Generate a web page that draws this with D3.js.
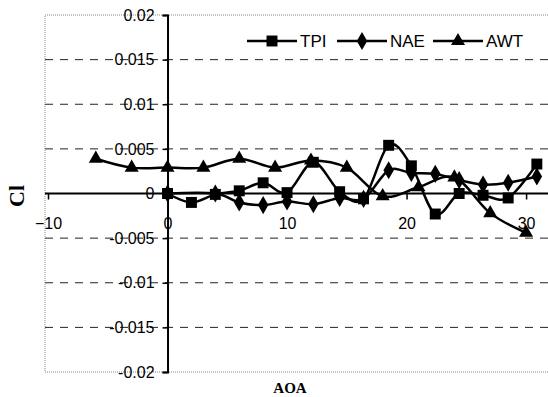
<!DOCTYPE html>
<html>
<head>
<meta charset="utf-8">
<script src="https://cdn.jsdelivr.net/npm/d3@7"></script>
<style>
  body { margin: 0; background: #fff; }
  svg { display: block; }
  text { font-family: "Liberation Sans", Arial, sans-serif; fill: #000; }
</style>
</head>
<body>
<div id="playground"></div>
<script>
// series data
var tpiX = [0, 2, 4, 6, 8, 10, 12.2, 14.4, 16.4, 18.5, 20.4, 22.4, 24.4, 26.4, 28.5, 30.9];
var tpiY = [0, -0.001, -0.0001, 0.0003, 0.0012, 0.0001, 0.0035, 0.0002, -0.0006, 0.0054, 0.0031, -0.0023, 0, -0.0002, -0.0005, 0.0033];
var naeX = [0, 4, 6, 8, 10, 12.2, 14.4, 16.4, 18.5, 20.4, 22.4, 24.4, 26.4, 28.5, 30.9];
var naeY = [0, 0, -0.001, -0.0013, -0.0009, -0.0012, -0.0005, -0.0006, 0.0026, 0.0023, 0.0022, 0.0015, 0.001, 0.0012, 0.0019];
var awtX = [-6, -3, 0, 3, 6, 9, 12, 15, 18, 21, 24, 27, 30];
var awtY = [0.0039, 0.0029, 0.0029, 0.0029, 0.0039, 0.0029, 0.0037, 0.0029, -0.0003, 0.0007, 0.0018, -0.0022, -0.0044];
var seriesNames = ["TPI", "NAE", "AWT"];
var xTicks = [-10, 0, 10, 20, 30];
var yTicks = [0.02, 0.015, 0.01, 0.005, 0, -0.005, -0.01, -0.015, -0.02];
var yTickLabels = ["0.02", "0.015", "0.01", "0.005", "0", "-0.005", "-0.01", "-0.015", "-0.02"];

var W = 548, H = 397;
var svg = d3.select("#playground").append("svg")
  .attr("width", W).attr("height", H);

var x = d3.scaleLinear().domain([-10, 32]).range([48, 550]);
var y = d3.scaleLinear().domain([-0.02, 0.02]).range([372, 15]);

// dotted plot border
svg.append("rect")
  .attr("x", 45).attr("y", y(0.02))
  .attr("width", 520).attr("height", y(-0.02) - y(0.02))
  .attr("fill", "none").attr("stroke", "#888")
  .attr("stroke-width", 1).attr("stroke-dasharray", "1,1");

// dashed grid
svg.selectAll(".grid").data(yTicks.filter(function(d){ return d != 0 && Math.abs(d) < 0.02; }))
  .enter().append("line")
  .attr("x1", 45).attr("x2", W)
  .attr("y1", function(d){ return y(d); }).attr("y2", function(d){ return y(d); })
  .attr("stroke", "#222").attr("stroke-width", 1).attr("stroke-dasharray", "8,7");

// axes crossing at zero
var yAxis = d3.axisLeft(y).tickValues(yTicks).tickSize(5).tickPadding(8)
  .tickFormat(function(d, i){ return yTickLabels[i]; });
var gy = svg.append("g").attr("transform", "translate(" + x(0) + ",0)").call(yAxis);
gy.select(".domain").attr("stroke-width", 2);
gy.selectAll("line").attr("stroke-width", 1.5);
gy.selectAll("text").style("font-size", "16px").attr("fill", "#000")
  .style("font-family", "'Liberation Sans', Arial, sans-serif");

var xAxis = d3.axisBottom(x).tickValues(xTicks).tickSize(6).tickPadding(18)
  .tickFormat(d3.format("d"));
var gx = svg.append("g").attr("transform", "translate(0," + y(0) + ")").call(xAxis);
gx.select(".domain").attr("d", "M45,0H" + W).attr("stroke-width", 2);
gx.selectAll("line").attr("stroke-width", 1.5);
gx.selectAll("text").style("font-size", "16px").attr("fill", "#000")
  .style("font-family", "'Liberation Sans', Arial, sans-serif");

// axis titles
svg.append("text")
  .attr("transform", "translate(24,196) rotate(-90)")
  .attr("text-anchor", "middle")
  .style("font-family", "'Liberation Serif', 'Times New Roman', serif")
  .style("font-weight", "bold").style("font-size", "22px")
  .text("Cl");
svg.append("text")
  .attr("x", 290).attr("y", 393)
  .attr("text-anchor", "middle")
  .style("font-family", "'Liberation Serif', 'Times New Roman', serif")
  .style("font-weight", "bold").style("font-size", "15px")
  .text("AOA");

// markers
var sq = d3.symbol().type(d3.symbolSquare).size(120);
var dm = d3.symbol().type(d3.symbolDiamond).size(95);
var tr = d3.symbol().type(d3.symbolTriangle).size(85);
var shapes = [sq, dm, tr];

var series = [
  d3.zip(tpiX, tpiY),
  d3.zip(naeX, naeY),
  d3.zip(awtX, awtY)
];

var line = d3.line()
  .x(function(d){ return x(d[0]); })
  .y(function(d){ return y(d[1]); })
  .curve(d3.curveCardinal.tension(0));

series.forEach(function(pts, i){
  svg.append("path").datum(pts)
    .attr("d", line)
    .attr("fill", "none").attr("stroke", "#000").attr("stroke-width", 2.5);
  svg.selectAll(".m" + i).data(pts).enter().append("path")
    .attr("class", "m" + i)
    .attr("d", shapes[i])
    .attr("transform", function(d){ return "translate(" + x(d[0]) + "," + y(d[1]) + ")"; })
    .attr("fill", "#000");
});

// legend
var legX = [247, 337, 433];
seriesNames.forEach(function(name, i){
  var g = svg.append("g").attr("transform", "translate(" + legX[i] + ",41)");
  g.append("line").attr("x1", 0).attr("x2", 50)
    .attr("stroke", "#000").attr("stroke-width", 2.5);
  g.append("path").attr("d", shapes[i]).attr("transform", "translate(25,0)").attr("fill", "#000");
  g.append("text").attr("x", 53).attr("y", 6).style("font-size", "17px").text(name);
});
</script>
</body>
</html>
